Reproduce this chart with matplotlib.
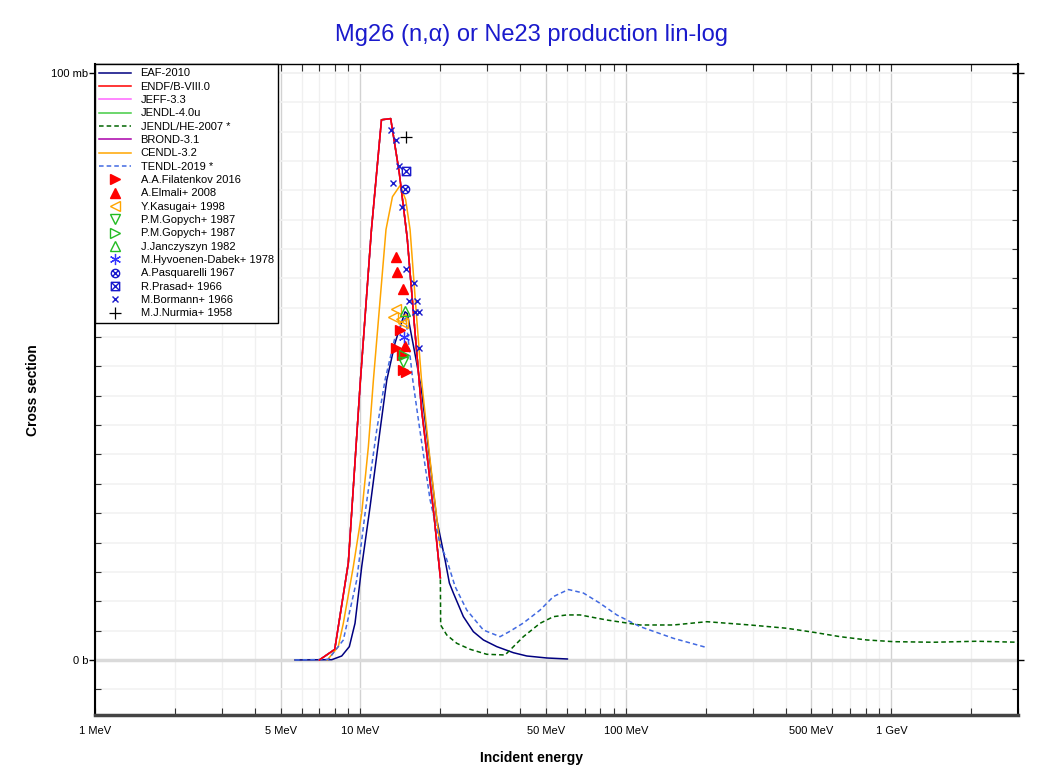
import numpy as np
import matplotlib
matplotlib.use('Agg')
import matplotlib.pyplot as plt
from matplotlib.path import Path
from matplotlib.ticker import FixedLocator, FixedFormatter, NullFormatter

plt.rcParams['font.family'] = ['Liberation Sans', 'DejaVu Sans']

# ---------------- evaluated data (E in MeV, cross section in mb) ----------------
eaf_e = [5.67, 7.8, 8.5, 9.08, 9.54, 10.11, 10.87, 11.86, 12.57, 13.5, 14.72, 15.02,
         16.3, 16.98, 19.39, 20.84, 21.63, 22.39, 24.42, 26.63, 29.05, 32.64, 37.68,
         42.33, 50.35, 60.2]
eaf_xs = [0, 0.05, 0.68, 2.27, 6.25, 15.9, 26.1, 39.2, 47.7, 54.0, 59.3, 59.0,
          50.5, 46.0, 23.9, 17.0, 13.1, 11.4, 7.38, 4.82, 3.41, 2.27, 1.24,
          0.68, 0.34, 0.17]

endf_e = [7, 8, 9, 10, 11, 12, 13, 14, 15, 16, 17, 18, 19, 20]
endf_xs = [0, 1.8, 16.5, 47.7, 73.3, 92.0, 92.2, 83.0, 71.9, 56.6, 42.6, 33.2, 23.9, 14.0]

jeff_e = endf_e
jeff_xs = endf_xs
jendl4_e = endf_e
jendl4_xs = endf_xs
brond_e = endf_e
brond_xs = endf_xs

jendlhe_e = endf_e + [20.05, 21.14, 23.06, 25.88, 29.92, 35.06, 36.62, 41.10, 47.5,
                      53.33, 59.9, 67.2, 84.7, 113, 151, 201.7, 293.8, 404, 509,
                      641, 808, 1018, 1441, 2100, 3000]
jendlhe_xs = endf_xs + [5.96, 4.26, 2.84, 1.82, 0.97, 0.85, 1.70, 3.97, 6.25,
                        7.38, 7.67, 7.67, 6.81, 5.96, 5.96, 6.52, 5.96, 5.40, 4.72,
                        3.97, 3.41, 3.12, 3.02, 3.19, 3.02]

cendl_e = [7.5, 8.25, 8.62, 9.40, 10.11, 10.71, 11.19, 12.48, 13.2, 14.1, 14.8,
           15.38, 16.2, 16.98, 18.3, 19.95]
cendl_xs = [0, 2.27, 6.25, 15.9, 25.0, 36.3, 47.7, 73.3, 78.9, 80.8, 78.4,
            73.3, 59.6, 47.7, 34.0, 19.3]

tendl_e = [5.67, 7.57, 8.62, 9.68, 10.41, 11.52, 12.38, 13.5, 14.8, 15.74, 16.53,
           18.29, 20.0, 21.0, 22.73, 25.15, 29.05, 33.57, 36.62, 41.10, 47.5, 53.33,
           60.73, 69.18, 79.95, 92.4, 113.1, 151, 200]
tendl_xs = [0, 0.1, 3.4, 13.6, 25.0, 39.2, 47.7, 55.0, 58.5, 47.7, 40.9,
            27.3, 19.5, 17.5, 12.5, 8.5, 5.1, 3.97, 4.9, 6.3, 8.5, 10.8,
            12.0, 11.4, 9.65, 7.67, 5.68, 3.69, 2.16]

# ---------------- experimental data (E in MeV, cross section in mb) ----------------
filatenkov_e = [14.10, 13.62, 14.31, 14.51, 14.85]
filatenkov_xs = [56.2, 53.1, 52.0, 49.4, 49.1]
elmali_e = [13.62, 13.70, 14.51, 14.7]
elmali_xs = [68.7, 66.0, 63.2, 53.4]
kasugai_e = [13.62, 13.30, 14.18, 14.51]
kasugai_xs = [59.8, 58.4, 58.0, 57.4]
gopych1_e = [14.51]
gopych1_xs = [50.8]
gopych2_e = [14.64]
gopych2_xs = [52.0]
janczyszyn_e = [14.72]
janczyszyn_xs = [59.4]
hyvoenen_e = [14.64]
hyvoenen_xs = [55.0]
pasquarelli_e = [14.76]
pasquarelli_xs = [80.2]
prasad_e = [14.85]
prasad_xs = [83.2]
bormann_e = [13.01, 13.62, 14.02, 13.30, 14.31, 14.82, 15.97, 15.25, 16.30, 16.06, 16.67, 16.67]
bormann_xs = [90.2, 88.6, 84.2, 81.2, 77.1, 66.6, 64.2, 61.2, 61.2, 59.2, 59.2, 53.1]
nurmia_e = [14.85]
nurmia_xs = [89.1]

x_ticks = [1, 5, 10, 50, 100, 500, 1000]
x_ticklabels = ['1 MeV', '5 MeV', '10 MeV', '50 MeV', '100 MeV', '500 MeV', '1 GeV']
y_ticks = [0, 100]
y_ticklabels = ['0 b', '100 mb']

# ---------------- figure ----------------
fig = plt.figure(figsize=(10.63, 7.74), dpi=100)
ax = fig.add_axes([95 / 1063, 1 - 715 / 774, (1018 - 95) / 1063, (715 - 64) / 774])

lw = 1.1
ax.plot(eaf_e, eaf_xs, color='#000080', lw=lw, label='EAF-2010', zorder=3)
ax.plot(endf_e, endf_xs, color='#ff0000', lw=lw, label='ENDF/B-VIII.0', zorder=3.6)
ax.plot(jeff_e, jeff_xs, color='#ff66ff', lw=lw, label='JEFF-3.3', zorder=3.1)
ax.plot(jendl4_e, jendl4_xs, color='#44cc44', lw=lw, label='JENDL-4.0u', zorder=3.05)
ax.plot(jendlhe_e, jendlhe_xs, color='#006400', lw=lw, ls=(0, (3, 2)), label='JENDL/HE-2007 *', zorder=3.0)
ax.plot(brond_e, brond_xs, color='#aa00aa', lw=lw, label='BROND-3.1', zorder=3.2)
ax.plot(cendl_e, cendl_xs, color='#ffa500', lw=lw, label='CENDL-3.2', zorder=3.3)
ax.plot(tendl_e, tendl_xs, color='#4169e1', lw=lw, ls=(0, (3, 2)), label='TENDL-2019 *', zorder=3.4)

# custom markers
circ = Path.unit_circle()
cross = Path([(-0.7, -0.7), (0.7, 0.7), (-0.7, 0.7), (0.7, -0.7)],
             [Path.MOVETO, Path.LINETO, Path.MOVETO, Path.LINETO])
otimes = Path.make_compound_path(circ, cross)
sq = Path([(-1, -1), (1, -1), (1, 1), (-1, 1), (-1, -1)],
          [Path.MOVETO, Path.LINETO, Path.LINETO, Path.LINETO, Path.CLOSEPOLY])
cross2 = Path([(-1, -1), (1, 1), (-1, 1), (1, -1)],
              [Path.MOVETO, Path.LINETO, Path.MOVETO, Path.LINETO])
boxtimes = Path.make_compound_path(sq, cross2)

ms = 7
mz = 5
ax.plot(filatenkov_e, filatenkov_xs, ls='none', marker='>', color='#ff0000', ms=ms, label='A.A.Filatenkov 2016', zorder=mz)
ax.plot(elmali_e, elmali_xs, ls='none', marker='^', color='#ff0000', ms=ms, label='A.Elmali+ 2008', zorder=mz)
ax.plot(kasugai_e, kasugai_xs, ls='none', marker='<', color='#ffa500', mfc='none', ms=ms, label='Y.Kasugai+ 1998', zorder=mz)
ax.plot(gopych1_e, gopych1_xs, ls='none', marker='v', color='#22bb22', mfc='none', ms=ms, label='P.M.Gopych+ 1987', zorder=mz)
ax.plot(gopych2_e, gopych2_xs, ls='none', marker='>', color='#22bb22', mfc='none', ms=ms, label='P.M.Gopych+ 1987', zorder=mz)
ax.plot(janczyszyn_e, janczyszyn_xs, ls='none', marker='^', color='#22bb22', mfc='none', ms=ms, label='J.Janczyszyn 1982', zorder=mz)
ax.plot(hyvoenen_e, hyvoenen_xs, ls='none', marker=(6, 2, 0), color='#3333ff', ms=ms + 1, mew=0.9, label='M.Hyvoenen-Dabek+ 1978', zorder=mz)
ax.plot(pasquarelli_e, pasquarelli_xs, ls='none', marker=otimes, color='#1a1acc', mfc='none', ms=ms - 1, mew=1, label='A.Pasquarelli 1967', zorder=mz)
ax.plot(prasad_e, prasad_xs, ls='none', marker=boxtimes, color='#1a1acc', mfc='none', ms=ms - 1, mew=1, label='R.Prasad+ 1966', zorder=mz)
ax.plot(bormann_e, bormann_xs, ls='none', marker='x', color='#1a1acc', ms=4.5, mew=1, label='M.Bormann+ 1966', zorder=mz)
ax.plot(nurmia_e, nurmia_xs, ls='none', marker='+', color='#000000', ms=8, mew=0.9, label='M.J.Nurmia+ 1958', zorder=mz)

# axes
ax.set_xscale('log')
ax.set_xlim(1, 3000)
ax.set_ylim(-9.37, 101.5)

ax.xaxis.set_major_locator(FixedLocator(x_ticks))
ax.xaxis.set_major_formatter(FixedFormatter(x_ticklabels))
minors = [m * d for d in (1, 10, 100, 1000) for m in range(2, 10) if m * d not in x_ticks and m * d <= 3000]
ax.xaxis.set_minor_locator(FixedLocator(minors))
ax.xaxis.set_minor_formatter(NullFormatter())

ax.yaxis.set_major_locator(FixedLocator(y_ticks))
ax.yaxis.set_major_formatter(FixedFormatter(y_ticklabels))
ax.yaxis.set_minor_locator(FixedLocator(np.arange(-5, 101, 5)))

ax.tick_params(axis='x', which='both', direction='in', length=5, top=True, bottom=True,
               labelsize=8, pad=8, width=0.8, color='#333333')
ax.tick_params(axis='y', which='major', direction='inout', length=8, left=True, right=True,
               labelsize=8, pad=1, width=1)
ax.tick_params(axis='y', which='minor', direction='in', length=4, left=True, right=True, width=0.8,
               color='#333333')

ax.grid(which='major', axis='x', color='#d2d2d2', lw=1)
ax.grid(which='minor', axis='x', color='#f0f0f0', lw=1)
ax.grid(which='minor', axis='y', color='#f2f2f2', lw=1.2)
ax.grid(which='major', axis='y', color='#f0f0f0', lw=1.2)
ax.axhline(0, color='#dadada', lw=2.5, zorder=1)
ax.set_axisbelow(True)

for s in ('left', 'right', 'top'):
    ax.spines[s].set_color('black')
ax.spines['left'].set_linewidth(1.5)
ax.spines['right'].set_linewidth(1.5)
ax.spines['top'].set_linewidth(1.0)
ax.spines['bottom'].set_color('#444444')
ax.spines['bottom'].set_linewidth(2.5)

leg = ax.legend(loc='upper left', bbox_to_anchor=(0, 1), borderaxespad=0, fontsize=8,
                frameon=True, fancybox=False, edgecolor='black', framealpha=1,
                handlelength=2.8, handletextpad=0.9, labelspacing=0.3, borderpad=0.4)
leg.get_frame().set_linewidth(1)
leg.set_zorder(10)

fig.text(0.5, 1 - 35 / 774, 'Mg26 (n,\u03b1) or Ne23 production lin-log', ha='center', va='center',
         fontsize=17, color='#1a1acc')
fig.text(0.5, 1 - 758 / 774, 'Incident energy', ha='center', va='center', fontsize=10, fontweight='bold')
fig.text(33 / 1063, 1 - 390 / 774, 'Cross section', ha='center', va='center', rotation=90,
         fontsize=10, fontweight='bold')

fig.savefig('out.png', dpi=100)
